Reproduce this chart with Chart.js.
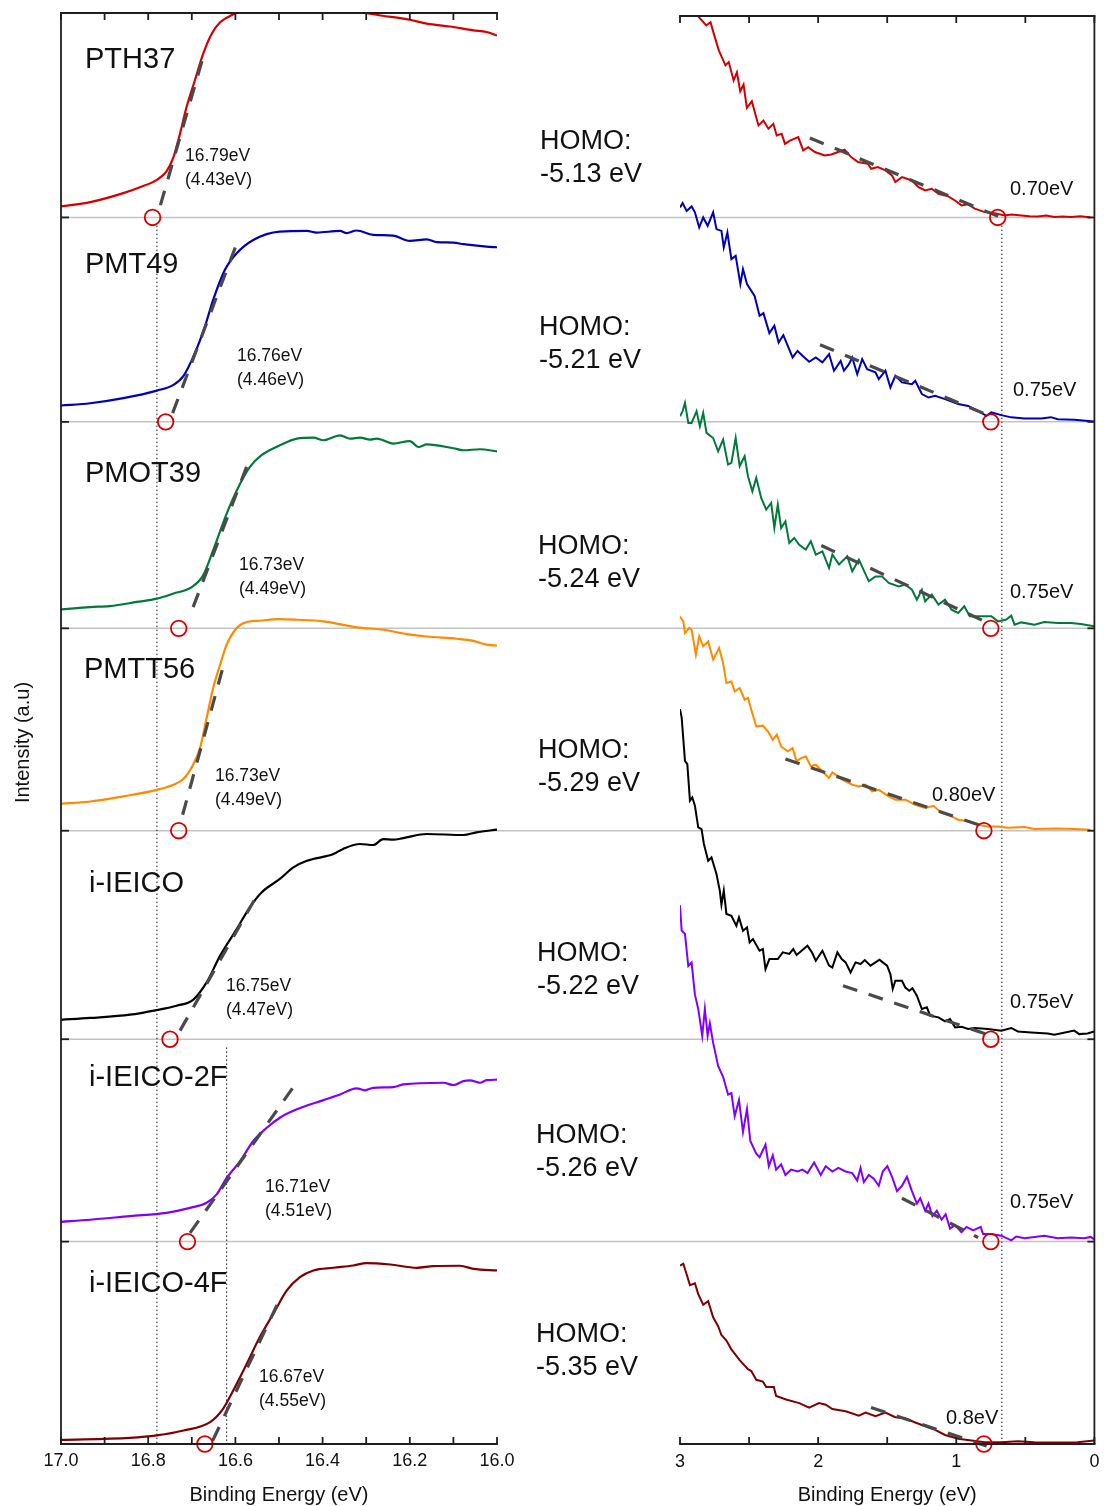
<!DOCTYPE html>
<html>
<head>
<meta charset="utf-8">
<title>UPS spectra</title>
<script src="https://cdn.jsdelivr.net/npm/chart.js@4.4.1/dist/chart.umd.min.js"></script>
<style>
  html, body { margin: 0; padding: 0; background: #ffffff; }
  #wrap { position: relative; width: 1104px; height: 1506px; }
  #wrap canvas { position: absolute; left: 0; top: 0; }
</style>
</head>
<body>
<div id="wrap">
  <canvas id="seco" width="1104" height="1506"></canvas>
  <canvas id="valence" width="1104" height="1506"></canvas>
</div>
<script>
// ---------------- data ----------------
const SAMPLES = ['PTH37', 'PMT49', 'PMOT39', 'PMTT56', 'i-IEICO', 'i-IEICO-2F', 'i-IEICO-4F'];
// vertical stacking offset of every spectrum (intensity units)
const STACK_OFFSET = [6, 5, 3.99, 3, 1.98, 0.99, 0];

// secondary-electron cutoff onsets and resulting work functions (eV)
const CUTOFF_ONSET = [16.79, 16.76, 16.73, 16.73, 16.75, 16.71, 16.67];
const WORK_FUNCTION = [4.43, 4.46, 4.49, 4.49, 4.47, 4.51, 4.55];
// valence-band onsets (eV) and the printed precision of each
const VB_ONSET = [0.70, 0.75, 0.75, 0.80, 0.75, 0.75, 0.8];
const VB_ONSET_DIGITS = [2, 2, 2, 2, 2, 2, 1];
const HOMO_LEVEL = [-5.13, -5.21, -5.24, -5.29, -5.22, -5.26, -5.35];

// axis ticks
const SECO_TICKS = [17.0, 16.8, 16.6, 16.4, 16.2, 16.0];
const SECO_MINOR = [17.0, 16.9, 16.8, 16.7, 16.6, 16.5, 16.4, 16.3, 16.2, 16.1, 16.0];
const VB_TICKS = [3, 2, 1, 0];
const VB_MINOR = [3, 2.5, 2, 1.5, 1, 0.5, 0];

// dotted guide lines: [energy, top stack offset]
const SECO_GUIDES = [[16.78, 6], [16.62, 1.98]];
const VB_GUIDES = [[0.67, 6]];

// secondary-electron cutoff region: [binding energy, intensity]
const PTH37_SECO = [[17.000,0.054],[16.933,0.075],[16.857,0.119],[16.819,0.148],[16.780,0.184],[16.758,0.225],[16.742,0.295],[16.727,0.410],[16.712,0.540],[16.693,0.670],[16.674,0.800],[16.654,0.900],[16.635,0.955],[16.608,0.990],[16.560,1.030],[16.490,1.050],[16.420,1.045],[16.350,1.025],[16.284,0.994],[16.200,0.967],[16.161,0.948],[16.108,0.934],[16.054,0.915],[16.024,0.907],[16.000,0.890]];
const PMT49_SECO = [[17.000,0.080],[16.933,0.091],[16.857,0.116],[16.780,0.153],[16.742,0.181],[16.719,0.225],[16.693,0.336],[16.670,0.466],[16.651,0.597],[16.624,0.744],[16.597,0.825],[16.559,0.890],[16.498,0.931],[16.436,0.934],[16.414,0.926],[16.360,0.934],[16.345,0.923],[16.322,0.936],[16.284,0.915],[16.238,0.911],[16.200,0.885],[16.161,0.893],[16.138,0.879],[16.100,0.877],[16.077,0.869],[16.024,0.857],[16.000,0.854]];
const PMOT39_SECO = [[17.000,0.093],[16.933,0.104],[16.888,0.109],[16.826,0.129],[16.780,0.145],[16.742,0.170],[16.700,0.202],[16.674,0.259],[16.651,0.382],[16.620,0.561],[16.589,0.708],[16.567,0.789],[16.540,0.847],[16.498,0.895],[16.459,0.928],[16.421,0.933],[16.398,0.920],[16.360,0.944],[16.337,0.928],[16.314,0.933],[16.291,0.923],[16.276,0.928],[16.238,0.904],[16.200,0.916],[16.180,0.887],[16.161,0.900],[16.100,0.881],[16.077,0.871],[16.039,0.876],[16.000,0.866]];
const PMTT56_SECO = [[17.000,0.132],[16.933,0.143],[16.857,0.168],[16.780,0.200],[16.742,0.225],[16.719,0.254],[16.697,0.323],[16.681,0.405],[16.666,0.551],[16.651,0.698],[16.635,0.812],[16.620,0.910],[16.597,0.992],[16.574,1.021],[16.544,1.027],[16.502,1.035],[16.459,1.032],[16.398,1.024],[16.322,0.995],[16.261,0.983],[16.207,0.962],[16.161,0.950],[16.092,0.939],[16.054,0.929],[16.024,0.910],[16.000,0.906]];
const IEICO_SECO = [[17.000,0.095],[16.933,0.104],[16.842,0.120],[16.780,0.143],[16.735,0.164],[16.697,0.193],[16.666,0.278],[16.635,0.409],[16.597,0.539],[16.567,0.645],[16.540,0.718],[16.498,0.784],[16.467,0.841],[16.436,0.873],[16.375,0.906],[16.353,0.931],[16.314,0.955],[16.284,0.950],[16.261,0.979],[16.238,0.976],[16.215,0.984],[16.161,1.004],[16.077,0.999],[16.047,1.012],[16.000,1.025]];
const IEICO2F_SECO = [[17.000,0.097],[16.933,0.107],[16.842,0.125],[16.758,0.141],[16.704,0.165],[16.666,0.190],[16.643,0.231],[16.620,0.312],[16.589,0.394],[16.559,0.492],[16.528,0.557],[16.498,0.606],[16.459,0.647],[16.398,0.692],[16.360,0.720],[16.322,0.750],[16.303,0.740],[16.284,0.752],[16.238,0.756],[16.215,0.769],[16.123,0.777],[16.100,0.766],[16.077,0.785],[16.062,0.789],[16.039,0.777],[16.024,0.790],[16.000,0.792]];
const IEICO4F_SECO = [[17.000,0.020],[16.842,0.030],[16.780,0.042],[16.719,0.066],[16.658,0.107],[16.631,0.164],[16.605,0.262],[16.574,0.392],[16.544,0.523],[16.513,0.637],[16.482,0.751],[16.452,0.816],[16.421,0.849],[16.375,0.862],[16.330,0.873],[16.299,0.885],[16.245,0.878],[16.184,0.862],[16.146,0.870],[16.085,0.872],[16.054,0.857],[16.000,0.849]];

// valence-band (HOMO) region: [binding energy, intensity]
const PTH37_VB = [[3.000,1.080],[2.930,1.030],[2.870,0.985],[2.810,0.939],[2.779,0.955],[2.755,0.898],[2.719,0.817],[2.671,0.744],[2.647,0.760],[2.612,0.670],[2.588,0.710],[2.564,0.617],[2.540,0.650],[2.516,0.536],[2.480,0.568],[2.432,0.450],[2.396,0.474],[2.360,0.434],[2.324,0.458],[2.300,0.401],[2.264,0.409],[2.240,0.360],[2.204,0.376],[2.144,0.393],[2.108,0.328],[2.072,0.344],[2.024,0.320],[1.952,0.303],[1.904,0.308],[1.856,0.320],[1.808,0.331],[1.761,0.295],[1.712,0.271],[1.640,0.263],[1.616,0.238],[1.568,0.246],[1.513,0.230],[1.465,0.205],[1.441,0.173],[1.393,0.197],[1.321,0.181],[1.273,0.148],[1.225,0.132],[1.178,0.140],[1.129,0.116],[1.058,0.103],[1.009,0.083],[0.962,0.059],[0.914,0.064],[0.866,0.043],[0.794,0.026],[0.722,0.021],[0.650,0.010],[0.600,0.014],[0.530,0.010],[0.470,0.006],[0.410,0.005],[0.350,0.009],[0.290,0.002],[0.230,0.005],[0.170,0.002],[0.100,0.006],[0.027,0.000]];
const PMT49_VB = [[3.000,1.049],[2.981,1.070],[2.952,1.032],[2.916,1.054],[2.892,1.025],[2.861,0.951],[2.832,1.000],[2.800,0.959],[2.760,1.025],[2.736,0.943],[2.700,0.934],[2.683,0.853],[2.657,0.926],[2.628,0.796],[2.597,0.812],[2.563,0.674],[2.544,0.747],[2.515,0.674],[2.460,0.616],[2.424,0.519],[2.396,0.532],[2.353,0.434],[2.317,0.470],[2.286,0.388],[2.252,0.424],[2.185,0.315],[2.149,0.347],[2.113,0.323],[2.065,0.294],[2.017,0.315],[1.969,0.291],[1.921,0.331],[1.885,0.250],[1.837,0.298],[1.813,0.250],[1.777,0.282],[1.753,0.315],[1.717,0.233],[1.681,0.307],[1.645,0.258],[1.585,0.242],[1.561,0.209],[1.513,0.250],[1.477,0.168],[1.441,0.225],[1.393,0.193],[1.321,0.184],[1.297,0.201],[1.249,0.136],[1.201,0.119],[1.153,0.127],[1.081,0.111],[0.986,0.087],[0.914,0.078],[0.842,0.054],[0.782,0.029],[0.746,0.046],[0.674,0.033],[0.602,0.022],[0.506,0.016],[0.386,0.016],[0.314,0.023],[0.266,0.013],[0.146,0.010],[0.002,0.002]];
const PMOT39_VB = [[3.000,1.037],[2.981,1.062],[2.964,1.103],[2.940,1.005],[2.916,1.005],[2.880,1.062],[2.856,0.988],[2.832,1.054],[2.808,0.956],[2.760,0.931],[2.724,0.866],[2.688,0.923],[2.652,0.801],[2.628,0.809],[2.597,0.931],[2.568,0.793],[2.532,0.842],[2.508,0.744],[2.476,0.670],[2.448,0.736],[2.412,0.638],[2.376,0.581],[2.340,0.613],[2.317,0.491],[2.292,0.605],[2.268,0.491],[2.237,0.523],[2.209,0.418],[2.173,0.442],[2.137,0.409],[2.089,0.385],[2.053,0.426],[2.017,0.361],[1.969,0.377],[1.921,0.295],[1.897,0.361],[1.849,0.312],[1.789,0.352],[1.753,0.279],[1.705,0.336],[1.633,0.230],[1.585,0.254],[1.537,0.254],[1.489,0.222],[1.417,0.205],[1.369,0.214],[1.321,0.189],[1.285,0.140],[1.249,0.189],[1.225,0.132],[1.177,0.165],[1.129,0.116],[1.081,0.140],[1.034,0.091],[0.986,0.075],[0.942,0.108],[0.902,0.059],[0.842,0.059],[0.782,0.059],[0.746,0.059],[0.698,0.034],[0.638,0.043],[0.602,0.062],[0.578,0.018],[0.530,0.029],[0.434,0.018],[0.362,0.031],[0.266,0.026],[0.170,0.026],[0.099,0.021],[0.002,0.010]];
const PMTT56_VB = [[3.000,1.048],[2.976,1.024],[2.964,0.967],[2.933,0.992],[2.916,0.983],[2.885,0.861],[2.861,0.951],[2.832,0.902],[2.796,0.926],[2.760,0.837],[2.717,0.894],[2.688,0.820],[2.664,0.723],[2.628,0.730],[2.604,0.681],[2.568,0.698],[2.532,0.641],[2.508,0.649],[2.484,0.592],[2.448,0.510],[2.400,0.514],[2.364,0.486],[2.328,0.445],[2.299,0.470],[2.268,0.412],[2.220,0.388],[2.185,0.404],[2.156,0.339],[2.124,0.355],[2.089,0.363],[2.053,0.315],[2.017,0.323],[1.969,0.290],[1.921,0.258],[1.897,0.285],[1.825,0.250],[1.753,0.225],[1.705,0.217],[1.657,0.225],[1.609,0.192],[1.561,0.200],[1.489,0.168],[1.441,0.152],[1.369,0.152],[1.297,0.127],[1.225,0.111],[1.165,0.122],[1.106,0.087],[1.034,0.070],[0.986,0.054],[0.914,0.046],[0.842,0.029],[0.770,0.021],[0.698,0.021],[0.626,0.015],[0.506,0.018],[0.434,0.008],[0.266,0.011],[0.146,0.008],[0.027,0.005]];
const IEICO_VB = [[3.000,1.615],[2.988,1.574],[2.964,1.362],[2.947,1.346],[2.928,1.167],[2.911,1.183],[2.892,1.142],[2.868,1.036],[2.844,1.028],[2.827,0.955],[2.796,0.873],[2.772,0.889],[2.736,0.808],[2.712,0.727],[2.700,0.658],[2.683,0.727],[2.664,0.613],[2.628,0.604],[2.592,0.555],[2.573,0.596],[2.544,0.531],[2.515,0.547],[2.496,0.474],[2.472,0.490],[2.424,0.433],[2.400,0.441],[2.381,0.343],[2.353,0.392],[2.292,0.392],[2.256,0.425],[2.209,0.417],[2.180,0.441],[2.156,0.412],[2.124,0.430],[2.077,0.457],[2.045,0.425],[2.017,0.384],[1.969,0.433],[1.921,0.360],[1.897,0.351],[1.861,0.425],[1.829,0.392],[1.801,0.376],[1.765,0.327],[1.729,0.376],[1.693,0.368],[1.662,0.387],[1.621,0.360],[1.585,0.376],[1.556,0.389],[1.532,0.376],[1.501,0.360],[1.477,0.319],[1.460,0.246],[1.441,0.286],[1.393,0.286],[1.369,0.253],[1.340,0.237],[1.317,0.249],[1.285,0.213],[1.249,0.148],[1.213,0.156],[1.189,0.115],[1.129,0.107],[1.081,0.087],[1.045,0.099],[1.009,0.058],[0.962,0.061],[0.914,0.050],[0.866,0.055],[0.770,0.050],[0.674,0.042],[0.602,0.055],[0.554,0.038],[0.458,0.033],[0.338,0.028],[0.290,0.022],[0.146,0.042],[0.110,0.025],[0.050,0.028],[0.002,0.038]];
const IEICO2F_VB = [[3.000,1.645],[2.988,1.522],[2.964,1.505],[2.940,1.348],[2.916,1.365],[2.892,1.208],[2.868,1.138],[2.839,1.007],[2.820,1.138],[2.800,1.007],[2.784,1.069],[2.760,0.972],[2.724,0.859],[2.688,0.806],[2.652,0.719],[2.628,0.727],[2.604,0.614],[2.573,0.693],[2.544,0.536],[2.515,0.649],[2.491,0.492],[2.448,0.430],[2.424,0.413],[2.381,0.474],[2.357,0.369],[2.328,0.422],[2.304,0.352],[2.268,0.378],[2.237,0.326],[2.196,0.352],[2.149,0.343],[2.113,0.352],[2.077,0.335],[2.029,0.387],[1.981,0.326],[1.945,0.369],[1.897,0.343],[1.854,0.361],[1.801,0.343],[1.753,0.335],[1.717,0.299],[1.693,0.361],[1.669,0.291],[1.633,0.326],[1.597,0.308],[1.561,0.273],[1.532,0.343],[1.499,0.369],[1.465,0.317],[1.429,0.247],[1.393,0.273],[1.357,0.317],[1.321,0.247],[1.285,0.186],[1.261,0.212],[1.225,0.151],[1.201,0.186],[1.173,0.125],[1.141,0.151],[1.106,0.107],[1.077,0.134],[1.045,0.064],[1.009,0.081],[0.962,0.046],[0.926,0.072],[0.878,0.055],[0.823,0.072],[0.806,0.037],[0.746,0.037],[0.674,0.029],[0.602,0.006],[0.566,0.025],[0.506,0.017],[0.434,0.023],[0.362,0.029],[0.266,0.017],[0.170,0.020],[0.074,0.017],[0.027,0.023],[0.002,0.011]];
const IEICO4F_VB = [[3.000,0.873],[2.976,0.882],[2.952,0.830],[2.928,0.777],[2.892,0.786],[2.868,0.733],[2.832,0.681],[2.796,0.699],[2.760,0.620],[2.724,0.576],[2.700,0.533],[2.664,0.506],[2.628,0.463],[2.568,0.410],[2.508,0.366],[2.484,0.357],[2.448,0.314],[2.400,0.305],[2.376,0.279],[2.321,0.279],[2.304,0.235],[2.232,0.218],[2.137,0.200],[2.065,0.178],[1.993,0.200],[1.945,0.192],[1.897,0.171],[1.801,0.160],[1.705,0.139],[1.657,0.154],[1.585,0.136],[1.513,0.154],[1.441,0.131],[1.369,0.125],[1.297,0.105],[1.225,0.087],[1.153,0.069],[1.081,0.044],[0.986,0.026],[0.890,0.017],[0.794,0.008],[0.674,0.008],[0.554,0.014],[0.434,0.008],[0.266,0.007],[0.122,0.008],[0.002,0.017]];

// linear extrapolations used to find the onsets: [E1, I1, E2, I2]
const SECO_TANGENTS = [[16.772,0.06,16.672,0.80],[16.744,0.043,16.596,0.877],[16.697,0.104,16.573,0.797],[16.721,0.078,16.629,0.796],[16.727,0.042,16.553,0.694],[16.704,0.043,16.461,0.774],[16.652,0.017,16.496,0.718]];
const VB_TANGENTS = [[2.06,0.389,0.686,0.002],[1.986,0.377,0.758,0.029],[1.977,0.405,0.770,0.026],[2.237,0.351,0.782,0.016],[1.82,0.262,0.782,0.025],[1.393,0.212,0.842,0.020],[1.617,0.179,0.78,-0.01]];

const SECO_CURVES = [PTH37_SECO, PMT49_SECO, PMOT39_SECO, PMTT56_SECO, IEICO_SECO, IEICO2F_SECO, IEICO4F_SECO];
const VB_CURVES = [PTH37_VB, PMT49_VB, PMOT39_VB, PMTT56_VB, IEICO_VB, IEICO2F_VB, IEICO4F_VB];

// ---------------- styling / layout ----------------
const COLORS = ['#d40000', '#0000b4', '#00793a', '#ff8a00', '#000000', '#8000ff', '#7f0000'];
const FONT = '"Liberation Sans", Arial, Helvetica, sans-serif';
const AXIS_COLOR = '#1e1e1e';
const BASELINE_COLOR = '#c3c3c3';
const TANGENT_COLOR = '#4a4a4a';
const ONSET_COLOR = '#d40000';
const SECO_AREA = { left: 61, right: 497, top: 13, bottom: 1444 };
const VB_AREA = { left: 680, right: 1097, top: 16, bottom: 1444 };
const CANVAS_W = 1104, CANVAS_H = 1506;

// text anchors in canvas pixels (x, vertical centre of first line)
const NAME_POS = [[85,58],[85,263],[85,472],[84,668],[89,882],[89,1076],[89,1282]];
const SECO_LABEL_POS = [[185,155],[237,355],[239,564],[215,775],[226,985],[265,1186],[259,1376]];
const HOMO_POS = [[540,139],[539,325],[538,544],[538,748],[537,951],[536,1133],[536,1332]];
const VB_LABEL_POS = [[1010,188],[1013,389],[1010,591],[932,794],[1010,1001],[1010,1201],[946,1417]];

function strokeLine(ctx, x1, y1, x2, y2) {
  ctx.beginPath(); ctx.moveTo(x1, y1); ctx.lineTo(x2, y2); ctx.stroke();
}
function text(ctx, str, x, yMid, size, align) {
  ctx.font = size + 'px ' + FONT;
  ctx.textAlign = align || 'left';
  ctx.textBaseline = 'alphabetic';
  ctx.fillText(str, x, yMid + size * 0.36);
}

function curveSets(curves, smooth, width) {
  return curves.map((pts, i) => ({
    label: SAMPLES[i],
    data: pts.map(p => ({ x: p[0], y: p[1] + STACK_OFFSET[i] })),
    borderColor: COLORS[i],
    borderWidth: width,
    pointRadius: 0,
    fill: false,
    tension: smooth ? 0.4 : 0,
    cubicInterpolationMode: smooth ? 'monotone' : 'default',
    order: 3
  }));
}
function tangentSets(tangents) {
  return tangents.map((t, i) => ({
    label: SAMPLES[i] + ' fit',
    data: [{ x: t[0], y: t[1] + STACK_OFFSET[i] }, { x: t[2], y: t[3] + STACK_OFFSET[i] }],
    borderColor: TANGENT_COLOR,
    borderWidth: 3.2,
    borderDash: [15, 12],
    pointRadius: 0,
    clip: false,
    order: 2
  }));
}
function guideSets(guides) {
  return guides.map(g => ({
    label: 'guide',
    data: [{ x: g[0], y: g[1] - 0.04 }, { x: g[0], y: 0 }],
    borderColor: '#111111',
    borderWidth: 1,
    borderDash: [1.5, 2.5],
    pointRadius: 0,
    clip: false,
    order: 4
  }));
}
function onsetSet(values) {
  return {
    label: 'onset',
    data: values.map((v, i) => ({ x: v, y: STACK_OFFSET[i] })),
    showLine: false,
    pointRadius: 7.8,
    pointStyle: 'circle',
    pointBorderColor: ONSET_COLOR,
    pointBackgroundColor: 'rgba(0,0,0,0)',
    pointBorderWidth: 1.8,
    clip: false,
    order: 1
  };
}

// ---------- left panel: secondary electron cutoff ----------
const secoPlugin = {
  id: 'secoDecor',
  beforeDatasetsDraw(chart) {
    const { ctx, chartArea: ca, scales: { y } } = chart;
    ctx.save();
    ctx.strokeStyle = BASELINE_COLOR;
    ctx.lineWidth = 1.5;
    STACK_OFFSET.forEach(o => {
      if (o === 0) return;
      const py = y.getPixelForValue(o);
      strokeLine(ctx, ca.left, py, VB_AREA.left, py);
    });
    ctx.restore();
  },
  afterDraw(chart) {
    const { ctx, chartArea: ca, scales: { x, y } } = chart;
    ctx.save();
    ctx.strokeStyle = AXIS_COLOR;
    ctx.fillStyle = '#111111';
    ctx.lineWidth = 1.8;
    ctx.lineCap = 'square';
    strokeLine(ctx, ca.left, ca.top, ca.left, ca.bottom);
    strokeLine(ctx, ca.left, ca.top, ca.right, ca.top);
    strokeLine(ctx, ca.left, ca.bottom, ca.right, ca.bottom);
    ctx.lineCap = 'butt';
    SECO_MINOR.forEach(v => {
      const px = x.getPixelForValue(v);
      strokeLine(ctx, px, ca.top, px, ca.top + 7);
      strokeLine(ctx, px, ca.bottom, px, ca.bottom - 7);
    });
    STACK_OFFSET.forEach(o => {
      const py = y.getPixelForValue(o);
      strokeLine(ctx, ca.left, py, ca.left + 8, py);
    });
    SECO_TICKS.forEach(v => text(ctx, v.toFixed(1), x.getPixelForValue(v), ca.bottom + 16, 18, 'center'));
    text(ctx, 'Binding Energy (eV)', (ca.left + ca.right) / 2, 1494, 20, 'center');
    ctx.save();
    ctx.translate(22, (ca.top + ca.bottom) / 2 + 14);
    ctx.rotate(-Math.PI / 2);
    text(ctx, 'Intensity (a.u)', 0, 0, 20, 'center');
    ctx.restore();

    SAMPLES.forEach((name, i) => {
      text(ctx, name, NAME_POS[i][0], NAME_POS[i][1], 29, 'left');
      const [lx, ly] = SECO_LABEL_POS[i];
      text(ctx, CUTOFF_ONSET[i].toFixed(2) + 'eV', lx, ly, 17.5, 'left');
      text(ctx, '(' + WORK_FUNCTION[i].toFixed(2) + 'eV)', lx, ly + 24, 17.5, 'left');
      const [hx, hy] = HOMO_POS[i];
      text(ctx, 'HOMO:', hx, hy, 27, 'left');
      text(ctx, HOMO_LEVEL[i].toFixed(2) + ' eV', hx, hy + 33, 27, 'left');
    });
    ctx.restore();
  }
};

new Chart(document.getElementById('seco'), {
  type: 'line',
  data: {
    datasets: [
      ...guideSets(SECO_GUIDES),
      ...curveSets(SECO_CURVES, true, 2.2),
      ...tangentSets(SECO_TANGENTS),
      onsetSet(CUTOFF_ONSET)
    ]
  },
  options: {
    responsive: false,
    maintainAspectRatio: false,
    animation: false,
    events: [],
    layout: { padding: { left: SECO_AREA.left, right: CANVAS_W - SECO_AREA.right, top: SECO_AREA.top, bottom: CANVAS_H - SECO_AREA.bottom } },
    scales: {
      x: { type: 'linear', min: 16, max: 17, reverse: true, display: false },
      y: { type: 'linear', min: 0, max: 7, display: false }
    },
    plugins: { legend: { display: false }, tooltip: { enabled: false } }
  },
  plugins: [secoPlugin]
});

// ---------- right panel: valence band / HOMO onset ----------
const vbPlugin = {
  id: 'vbDecor',
  beforeDatasetsDraw(chart) {
    const { ctx, chartArea: ca, scales: { y } } = chart;
    ctx.save();
    ctx.strokeStyle = BASELINE_COLOR;
    ctx.lineWidth = 1.5;
    STACK_OFFSET.forEach(o => {
      if (o === 0) return;
      const py = y.getPixelForValue(o);
      strokeLine(ctx, ca.left, py, ca.right, py);
    });
    ctx.restore();
  },
  afterDraw(chart) {
    const { ctx, chartArea: ca, scales: { x, y } } = chart;
    ctx.save();
    ctx.strokeStyle = AXIS_COLOR;
    ctx.fillStyle = '#111111';
    ctx.lineWidth = 1.8;
    ctx.lineCap = 'square';
    strokeLine(ctx, ca.right, ca.top, ca.right, ca.bottom);
    strokeLine(ctx, ca.left, ca.top, ca.right, ca.top);
    strokeLine(ctx, ca.left, ca.bottom, ca.right, ca.bottom);
    ctx.lineCap = 'butt';
    VB_MINOR.forEach(v => {
      const px = x.getPixelForValue(v);
      strokeLine(ctx, px, ca.top, px, ca.top + 7);
      strokeLine(ctx, px, ca.bottom, px, ca.bottom - 7);
    });
    STACK_OFFSET.forEach(o => {
      const py = y.getPixelForValue(o);
      strokeLine(ctx, ca.right, py, ca.right - 7, py);
    });
    VB_TICKS.forEach(v => text(ctx, String(v), x.getPixelForValue(v), ca.bottom + 17, 18, 'center'));
    text(ctx, 'Binding Energy (eV)', (ca.left + ca.right) / 2, 1494, 20, 'center');
    SAMPLES.forEach((name, i) => {
      const [vx, vy] = VB_LABEL_POS[i];
      text(ctx, VB_ONSET[i].toFixed(VB_ONSET_DIGITS[i]) + 'eV', vx, vy, 20, 'left');
    });
    ctx.restore();
  }
};

new Chart(document.getElementById('valence'), {
  type: 'line',
  data: {
    datasets: [
      ...guideSets(VB_GUIDES),
      ...curveSets(VB_CURVES, false, 2),
      ...tangentSets(VB_TANGENTS),
      onsetSet(VB_ONSET)
    ]
  },
  options: {
    responsive: false,
    maintainAspectRatio: false,
    animation: false,
    events: [],
    layout: { padding: { left: VB_AREA.left, right: CANVAS_W - VB_AREA.right, top: VB_AREA.top, bottom: CANVAS_H - VB_AREA.bottom } },
    scales: {
      x: { type: 'linear', min: 0, max: 3, reverse: true, display: false },
      y: { type: 'linear', min: 0, max: (VB_AREA.bottom - VB_AREA.top) / ((SECO_AREA.bottom - SECO_AREA.top) / 7), display: false }
    },
    plugins: { legend: { display: false }, tooltip: { enabled: false } }
  },
  plugins: [vbPlugin]
});
</script>
</body>
</html>
